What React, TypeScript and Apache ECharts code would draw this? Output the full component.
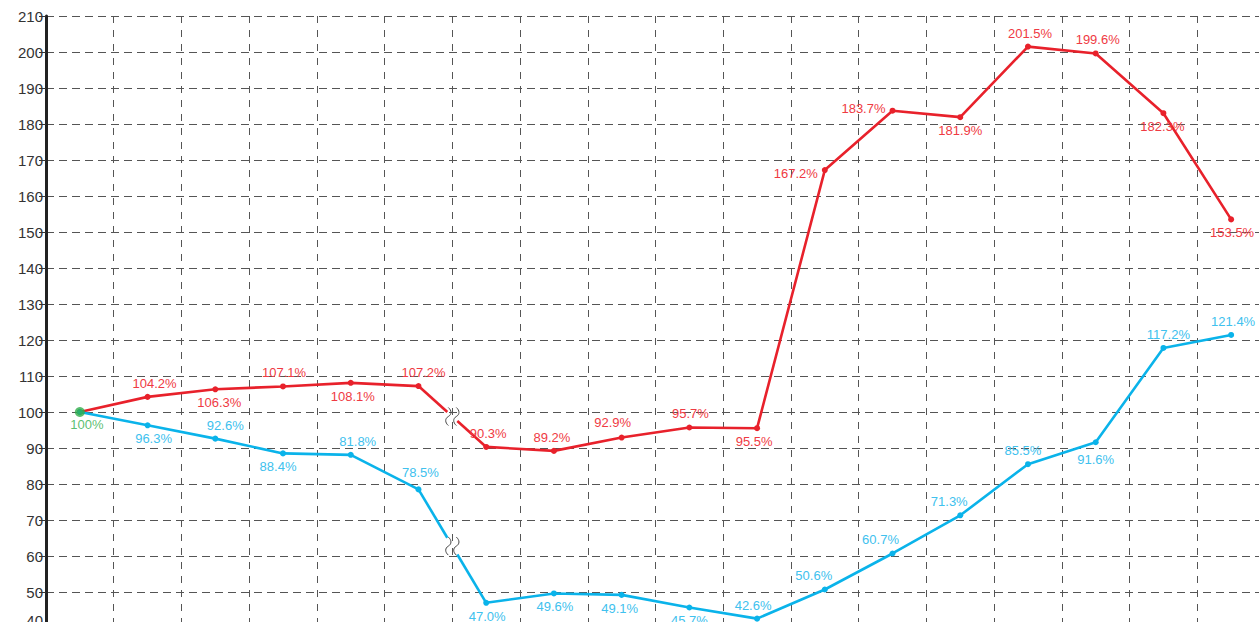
import React, { useEffect, useRef } from "react";
import * as echarts from "echarts";

// ---- data ----
const categories = ["1", "2", "3", "4", "5", "6", "7", "8", "9", "10", "11", "12", "13", "14", "15", "16", "17", "18"];
// plotted values
const redValues = [100, 104.2, 106.3, 107.1, 108.1, 107.2, 90.3, 89.2, 92.9, 95.7, 95.5, 167.2, 183.7, 181.9, 201.5, 199.6, 183.0, 153.5];
const blueValues = [100, 96.3, 92.6, 88.5, 88.1, 78.5, 47.0, 49.6, 49.2, 45.7, 42.6, 50.7, 60.7, 71.3, 85.5, 91.6, 117.8, 121.4];
// printed labels
const redLabels = ["", "104.2%", "106.3%", "107.1%", "108.1%", "107.2%", "90.3%", "89.2%", "92.9%", "95.7%", "95.5%", "167.2%", "183.7%", "181.9%", "201.5%", "199.6%", "182.3%", "153.5%"];
const blueLabels = ["", "96.3%", "92.6%", "88.4%", "81.8%", "78.5%", "47.0%", "49.6%", "49.1%", "45.7%", "42.6%", "50.6%", "60.7%", "71.3%", "85.5%", "91.6%", "117.2%", "121.4%"];
const startValue = 100;
const startLabel = "100%";
const breakAfterIndex = 5;

// ---- label placement (style, not data) ----
const redPlace: [string, number, number][] = [
  ["bottom", 0, 0], ["top", 7, 0], ["bottom", 4, 0], ["top", 1, 0], ["bottom", 2, 0], ["top", 5, 0],
  ["top", 2, 0], ["top", -2, 0], ["top", -9, -2], ["top", 1, 0], ["bottom", -3, 0], ["left", 0, 3],
  ["left", 0, -2], ["bottom", 0, 0], ["top", 2, 0], ["top", 2, 0], ["bottom", -1, 0], ["bottom", 1, 0],
];
const bluePlace: [string, number, number][] = [
  ["bottom", 0, 0], ["bottom", 6, 0], ["top", 10, 0], ["bottom", -5, 0], ["top", 7, 0], ["top", 2, -3],
  ["bottom", 1, 0], ["bottom", 1, 0], ["bottom", -2, 0], ["bottom", 0, 0], ["top", -4, 0], ["top", -11, 0],
  ["top", -12, 0], ["top", -11, 0], ["top", -5, 0], ["bottom", 0, 4], ["top", 5, 0], ["top", 2, 0],
];

const FONT = '"Liberation Sans", Arial, sans-serif';
const RED = "#e8212b";
const RED_TXT = "#ef3a43";
const BLUE = "#0ab3ea";
const BLUE_TXT = "#40c1ee";
const GREEN = "#2fae4a";

function splitSeries(vals: number[], labels: string[], place: [string, number, number][], color: string, txt: string, part: 0 | 1) {
  return {
    type: "line",
    z: 3,
    data: vals.map((v, i) => {
      const inPart = part === 0 ? i <= breakAfterIndex : i > breakAfterIndex;
      if (!inPart) return null;
      return {
        value: v,
        label: {
          show: i > 0,
          position: place[i][0],
          offset: [place[i][1], place[i][2]],
          formatter: () => labels[i],
        },
      };
    }),
    symbol: "circle",
    symbolSize: 6,
    showSymbol: true,
    lineStyle: { color, width: 2.6 },
    itemStyle: { color },
    label: { color: txt, fontSize: 13, fontFamily: FONT, distance: 4 },
    connectNulls: false,
  };
}

function breakSeries(vals: number[], color: string) {
  const i0 = breakAfterIndex;
  const i1 = breakAfterIndex + 1;
  return {
    type: "custom",
    z: 3,
    data: [[i0, vals[i0], i1, vals[i1]]],
    encode: { x: [0, 2], y: [1, 3] },
    renderItem: (params: any, api: any) => {
      const p0 = api.coord([api.value(0), api.value(1)]);
      const p1 = api.coord([api.value(2), api.value(3)]);
      const mx = (p0[0] + p1[0]) / 2;
      const yAt = (x: number) => p0[1] + ((x - p0[0]) / (p1[0] - p0[0])) * (p1[1] - p0[1]);
      const gl = mx - 5;
      const gr = mx + 5;
      const my = yAt(mx);
      const squiggle = (cx: number) =>
        `M${cx} ${my - 9} C${cx + 3.5} ${my - 6} ${cx + 3.5} ${my - 2} ${cx} ${my} C${cx - 3.5} ${my + 2} ${cx - 3.5} ${my + 6} ${cx} ${my + 9}`;
      return {
        type: "group",
        children: [
          { type: "line", shape: { x1: p0[0], y1: p0[1], x2: gl, y2: yAt(gl) }, style: { stroke: color, lineWidth: 2.6 } },
          { type: "line", shape: { x1: gr, y1: yAt(gr), x2: p1[0], y2: p1[1] }, style: { stroke: color, lineWidth: 2.6 } },
          { type: "path", shape: { pathData: squiggle(mx - 4) }, style: { stroke: "#444", lineWidth: 1, fill: "none" } },
          { type: "path", shape: { pathData: squiggle(mx + 4) }, style: { stroke: "#444", lineWidth: 1, fill: "none" } },
        ],
      };
    },
  };
}

export default function App() {
  const ref = useRef<HTMLDivElement>(null);
  useEffect(() => {
    if (!ref.current) return;
    const chart = echarts.init(ref.current, undefined, { renderer: "svg" });
    chart.setOption({
      animation: false,
      backgroundColor: "#fff",
      grid: { left: 46, top: 16, width: 1219, height: 612, outerBoundsMode: "none", containLabel: false },
      xAxis: {
        type: "category",
        data: categories,
        boundaryGap: true,
        axisLine: { show: false },
        axisTick: { show: false },
        axisLabel: { show: false },
        splitLine: { show: true, lineStyle: { type: [7, 7], color: "#555", width: 1 } },
      },
      yAxis: {
        type: "value",
        min: 40,
        max: 210,
        interval: 10,
        axisLine: { show: true, lineStyle: { color: "#222", width: 3 } },
        axisTick: { show: true, length: 7, lineStyle: { color: "#333", width: 1 } },
        axisLabel: {
          fontSize: 15,
          color: "#333",
          margin: 3,
          fontFamily: FONT,
          verticalAlignMinLabel: "bottom",
        },
        splitLine: { show: true, lineStyle: { type: [8, 5], color: "#555", width: 1 } },
      },
      series: [
        splitSeries(redValues, redLabels, redPlace, RED, RED_TXT, 0),
        splitSeries(redValues, redLabels, redPlace, RED, RED_TXT, 1),
        splitSeries(blueValues, blueLabels, bluePlace, BLUE, BLUE_TXT, 0),
        splitSeries(blueValues, blueLabels, bluePlace, BLUE, BLUE_TXT, 1),
        breakSeries(redValues, RED),
        breakSeries(blueValues, BLUE),
        {
          type: "scatter",
          z: 5,
          data: [[0, startValue]],
          symbolSize: 10,
          itemStyle: { color: GREEN },
          label: {
            show: true,
            position: "bottom",
            offset: [7, -3],
            distance: 4,
            formatter: startLabel,
            color: GREEN,
            fontSize: 13,
            fontFamily: FONT,
          },
        },
      ],
    });
    return () => chart.dispose();
  }, []);
  return <div ref={ref} style={{ position: "fixed", left: 0, top: 0, width: 1259, height: 622, overflow: "hidden" }} />;
}
